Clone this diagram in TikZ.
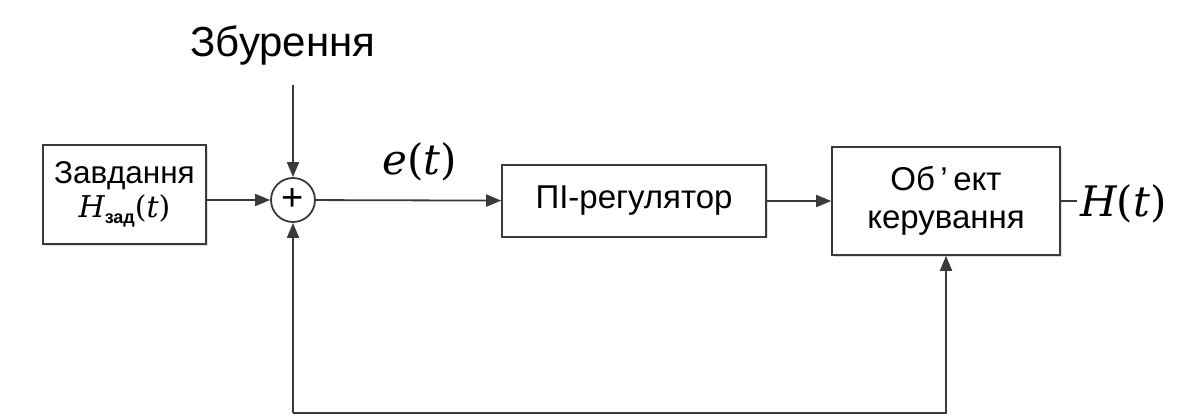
\documentclass[tikz,border=0pt]{standalone}
\usepackage{fontspec}
\setmainfont{Liberation Sans}
\newfontfamily\mthfont{DejaVu Serif}
\newcommand{\myvar}[1]{{\mthfont\itshape #1}}
\newcommand{\mypar}[1]{{\mthfont #1}}
\usetikzlibrary{arrows.meta,shadows}
\definecolor{linec}{HTML}{3A3A3A}
\tikzset{
  block/.style={draw=linec, line width=1.6pt, fill=white, inner sep=0pt, align=center,
    font=\fontsize{33}{38}\selectfont,
    drop shadow={opacity=0.25, shadow xshift=1.5pt, shadow yshift=-1.5pt}},
  conn/.style={draw=linec, line width=1.8pt},
  arr/.style={conn, -{Triangle[length=15pt,width=12pt]}},
  mathlbl/.style={font=\fontsize{42}{46}\selectfont, inner sep=0pt}
}
\begin{document}
\begin{tikzpicture}[x=1pt,y=1pt]
\useasboundingbox[fill=white] (0,0) rectangle (1185,418);
\node[font=\fontsize{42}{46}\selectfont, inner sep=0pt] (dlabel) at (283,373) {Збурення};
\node[block, minimum width=163pt, minimum height=99pt, font=\fontsize{31.5}{35}\selectfont] (task) at (124.5,223.5)
  {Завдання\\[-1pt] {\fontsize{30}{32}\selectfont\myvar{H}\raisebox{-6pt}{\fontsize{18}{20}\selectfont\bfseries зад}\mypar{(}\myvar{t}\mypar{)}}};
\node[draw=linec, line width=1.8pt, circle, minimum size=44pt, inner sep=0pt, fill=white,
  font=\fontsize{38}{38}\selectfont] (sum) at (293,218) {\raisebox{1.5pt}{+}};
\node[block, minimum width=264pt, minimum height=72pt] (pi) at (634,217) {ПІ-регулятор};
\node[block, minimum width=228pt, minimum height=108pt] (obj) at (946,217) {Об\,’\,ект\\керування};
\coordinate (dtop) at (293,333);
\coordinate (out) at (1077,217);
\coordinate (fb1) at (293,5);
\coordinate (fb2) at (946,5);
\node[mathlbl] (elbl) at (420,256) {\myvar{e}\mypar{(}\myvar{t}\mypar{)}};
\node[mathlbl, anchor=west] (hlbl) at (1080,214) {\myvar{H}\mypar{(}\myvar{t}\mypar{)}};
\draw[arr] (dtop) -- (sum);
\draw[arr] (task.east |- sum) -- (sum);
\draw[arr] (sum) -- (pi);
\draw[arr] (pi.east |- 0,217) -- (obj.west |- 0,217);
\draw[conn] (obj.east |- out) -- (out);
\draw[arr] (fb1) -- (sum);
\draw[arr] (fb1) -- (fb2) -- (obj);
\end{tikzpicture}
\end{document}
